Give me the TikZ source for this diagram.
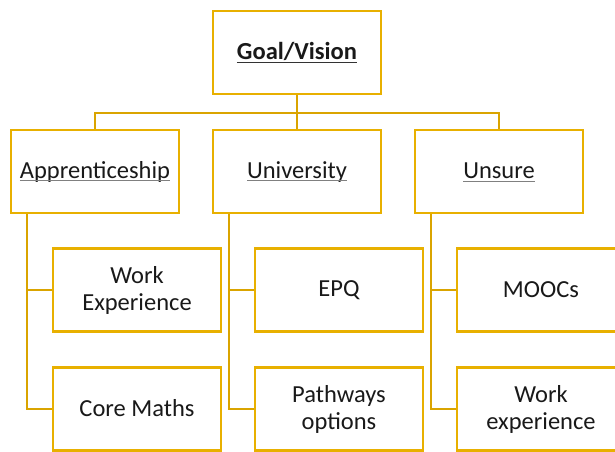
\documentclass[tikz,border=0pt]{standalone}
\usepackage{fontspec}
\setmainfont{Carlito}
\usetikzlibrary{trees}
\definecolor{boxgold}{HTML}{E8B000}
\definecolor{linegold}{HTML}{DAA400}
% underline at a fixed depth, in a given colour
\newlength\linedwd
\newcommand\lined[2]{\settowidth\linedwd{#2}\rlap{#2}\textcolor{#1}{\rule[-3pt]{\linedwd}{0.9pt}}}
\newcommand\tstrut{\rule[-3pt]{0pt}{20pt}}

\begin{document}
\begin{tikzpicture}[x=1pt, y=1pt,
      level 1/.style={sibling distance=202pt, level distance=119pt,
        edge from parent path={(\tikzparentnode.south) -- ++(0,-18) -| (\tikzchildnode.north)}},
      level 2/.style={grow via three points={one child at (42,-118.5) and two children at (42,-118.5) and (42,-237.5)},
        edge from parent path={(\tikzparentnode.south west) ++(17,0) |- (\tikzchildnode.west)}},
      edge from parent/.style={draw=linegold, line width=2.2pt},
      box/.style={draw=boxgold, line width=2.2pt, fill=white, minimum width=168pt,
        minimum height=83pt, inner sep=0pt, align=center, text=black!90,
        font=\fontsize{24.5}{27}\selectfont}]
    \useasboundingbox (0,0) rectangle (615,-451);
    \node[box] (goal) at (297,-52.5) {\tstrut\lined{black!80}{\textbf{Goal/Vision}}}
      child { node[box] (appr) {\tstrut\lined{gray}{Apprenticeship}}
        child { node[box] (apprwork) {Work\\Experience} }
        child { node[box] (core) {\tstrut Core Maths} }
      }
      child { node[box] (uni) {\tstrut\lined{gray}{University}}
        child { node[box] (epq) {\tstrut EPQ} }
        child { node[box] (path) {Pathways\\options} }
      }
      child { node[box] (unsure) {\tstrut\lined{gray}{Unsure}}
        child { node[box] (mooc) {\tstrut MOOCs} }
        child { node[box] (unsurework) {Work\\experience} }
      };
  \end{tikzpicture}
\end{document}
